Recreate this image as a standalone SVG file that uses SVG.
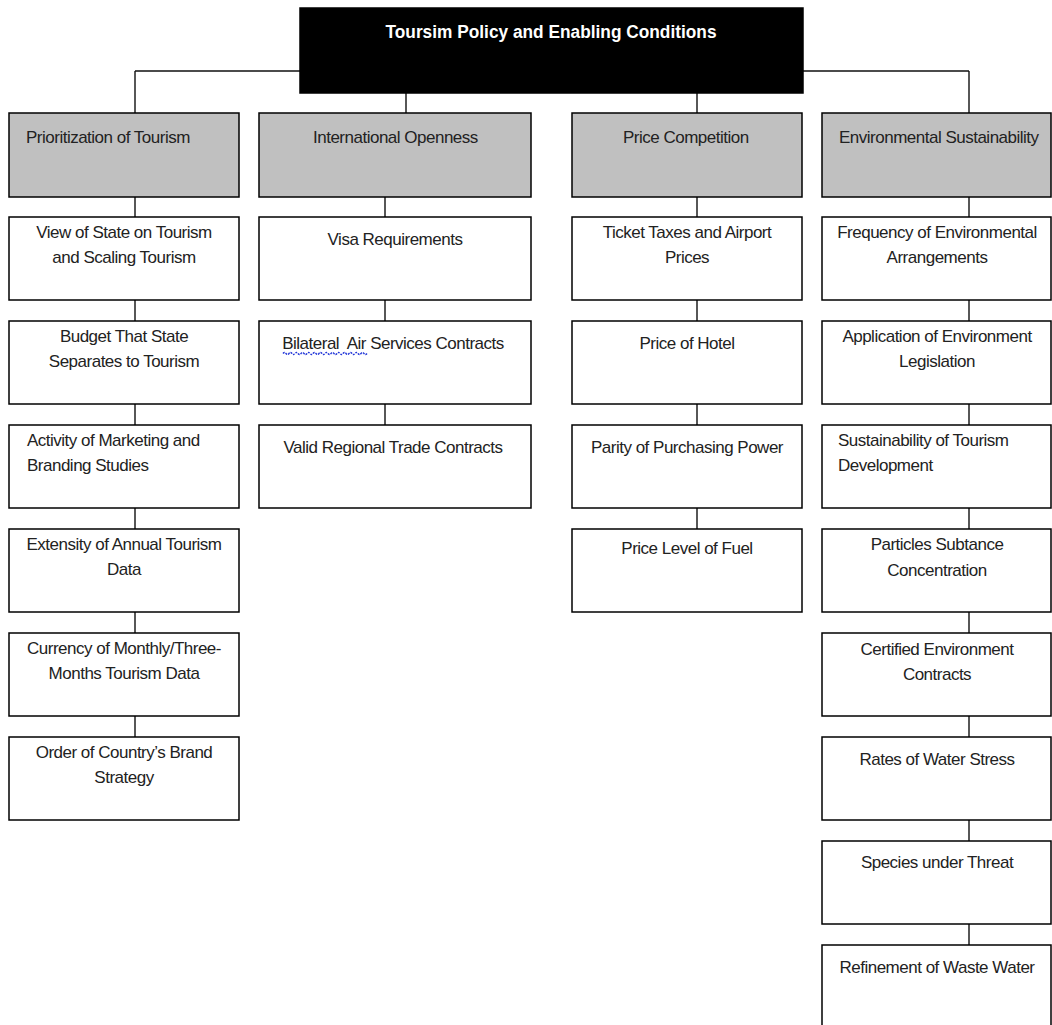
<svg xmlns="http://www.w3.org/2000/svg" width="1052" height="1025" viewBox="0 0 1052 1025">
<style>
.bx{fill:#fff;stroke:#000;stroke-width:1.5}
.hd{fill:#c0c0c0;stroke:#000;stroke-width:1.5}
.tp{fill:#000;stroke:#000;stroke-width:1.5}
.cn{stroke:#111;stroke-width:1.4;fill:none}
text{font-family:"Liberation Sans",Arial,sans-serif;font-size:17px;letter-spacing:-0.5px;fill:#222}
.c{text-anchor:middle}
.title{font-weight:bold;fill:#fff;font-size:18px;letter-spacing:0}
</style>
<rect width="1052" height="1025" fill="#fff"/>
<g id="connectors">
<path class="cn" d="M135 71H969M135 71V113M969 71V113M406 93V113M697 93V113"/>
<path class="cn" d="M135 197V217M135 300V321M135 404V425M135 508V529M135 612V633M135 716V737"/>
<path class="cn" d="M385 197V217M385 300V321M385 404V425"/>
<path class="cn" d="M697 197V217M697 300V321M697 404V425M697 508V529"/>
<path class="cn" d="M969 197V217M969 300V321M969 404V425M969 508V529M969 612V633M969 716V737M969 820V841M969 924V945"/>
</g>
<g id="root"><rect class="tp" x="300" y="8" width="503" height="85"/><text class="title c" x="551" y="38" textLength="331" lengthAdjust="spacingAndGlyphs">Toursim Policy and Enabling Conditions</text></g>
<g id="h1"><rect class="hd" x="9" y="113" width="230" height="84"/><text x="26" y="143">Prioritization of Tourism</text></g>
<g id="h2"><rect class="hd" x="259" y="113" width="272" height="84"/><text x="313" y="143">International Openness</text></g>
<g id="h3"><rect class="hd" x="572" y="113" width="230" height="84"/><text x="623" y="143">Price Competition</text></g>
<g id="h4"><rect class="hd" x="822" y="113" width="229" height="84"/><text x="839" y="143">Environmental Sustainability</text></g>

<g id="c1r1"><rect class="bx" x="9" y="217" width="230" height="83"/><text class="c" x="124" y="238">View of State on Tourism</text><text class="c" x="124" y="263">and Scaling Tourism</text></g>
<g id="c1r2"><rect class="bx" x="9" y="321" width="230" height="83"/><text class="c" x="124" y="342">Budget That State</text><text class="c" x="124" y="367">Separates to Tourism</text></g>
<g id="c1r3"><rect class="bx" x="9" y="425" width="230" height="83"/><text x="27" y="446">Activity of Marketing and</text><text x="27" y="471">Branding Studies</text></g>
<g id="c1r4"><rect class="bx" x="9" y="529" width="230" height="83"/><text class="c" x="124" y="550">Extensity of Annual Tourism</text><text class="c" x="124" y="575">Data</text></g>
<g id="c1r5"><rect class="bx" x="9" y="633" width="230" height="83"/><text class="c" x="124" y="654">Currency of Monthly/Three-</text><text class="c" x="124" y="679">Months Tourism Data</text></g>
<g id="c1r6"><rect class="bx" x="9" y="737" width="230" height="83"/><text class="c" x="124" y="758">Order of Country’s Brand</text><text class="c" x="124" y="783">Strategy</text></g>

<g id="c2r1"><rect class="bx" x="259" y="217" width="272" height="83"/><text class="c" x="395" y="245">Visa Requirements</text></g>
<g id="c2r2"><rect class="bx" x="259" y="321" width="272" height="83"/><text class="c" x="393" y="349" xml:space="preserve">Bilateral  Air Services Contracts</text><path d="M283 353.5q1.5-2 3 0t3 0t3 0t3 0t3 0t3 0t3 0t3 0t3 0t3 0t3 0t3 0t3 0t3 0t3 0t3 0t3 0t3 0t3 0t3 0t3 0t3 0t3 0t3 0t3 0t3 0t3 0t3 0t3" fill="none" stroke="#2438d8" stroke-width="1.3" stroke-dasharray="2 1"/></g>
<g id="c2r3"><rect class="bx" x="259" y="425" width="272" height="83"/><text class="c" x="393" y="453">Valid Regional Trade Contracts</text></g>

<g id="c3r1"><rect class="bx" x="572" y="217" width="230" height="83"/><text class="c" x="687" y="238">Ticket Taxes and Airport</text><text class="c" x="687" y="263">Prices</text></g>
<g id="c3r2"><rect class="bx" x="572" y="321" width="230" height="83"/><text class="c" x="687" y="349">Price of Hotel</text></g>
<g id="c3r3"><rect class="bx" x="572" y="425" width="230" height="83"/><text class="c" x="687" y="453">Parity of Purchasing Power</text></g>
<g id="c3r4"><rect class="bx" x="572" y="529" width="230" height="83"/><text class="c" x="687" y="554">Price Level of Fuel</text></g>

<g id="c4r1"><rect class="bx" x="822" y="217" width="229" height="83"/><text class="c" x="937" y="238">Frequency of Environmental</text><text class="c" x="937" y="263">Arrangements</text></g>
<g id="c4r2"><rect class="bx" x="822" y="321" width="229" height="83"/><text class="c" x="937" y="342">Application of Environment</text><text class="c" x="937" y="367">Legislation</text></g>
<g id="c4r3"><rect class="bx" x="822" y="425" width="229" height="83"/><text x="838" y="446">Sustainability of Tourism</text><text x="838" y="471">Development</text></g>
<g id="c4r4"><rect class="bx" x="822" y="529" width="229" height="83"/><text class="c" x="937" y="550">Particles Subtance</text><text class="c" x="937" y="576">Concentration</text></g>
<g id="c4r5"><rect class="bx" x="822" y="633" width="229" height="83"/><text class="c" x="937" y="655">Certified Environment</text><text class="c" x="937" y="680">Contracts</text></g>
<g id="c4r6"><rect class="bx" x="822" y="737" width="229" height="83"/><text class="c" x="937" y="765">Rates of Water Stress</text></g>
<g id="c4r7"><rect class="bx" x="822" y="841" width="229" height="83"/><text class="c" x="937" y="868">Species under Threat</text></g>
<g id="c4r8"><rect class="bx" x="822" y="945" width="229" height="90"/><text class="c" x="937" y="973">Refinement of Waste Water</text></g>
</svg>
